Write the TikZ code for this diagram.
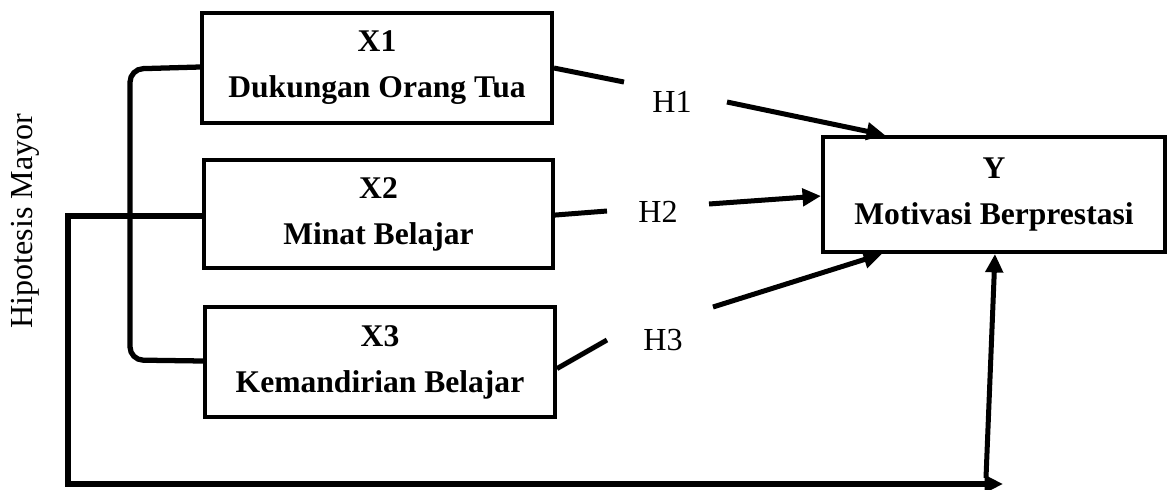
\documentclass[tikz,border=0pt]{standalone}
\usepackage{fontspec}
\setmainfont{Liberation Serif}
\usetikzlibrary{arrows.meta}
\begin{document}
\begin{tikzpicture}[x=0.38pt,y=-0.38pt,
  box/.style={draw,line width=1.5pt,align=center,inner sep=0pt,
    font=\fontsize{12}{17.5}\selectfont\bfseries},
  lbl/.style={font=\fontsize{12.2}{14}\selectfont,inner sep=0pt},
  link/.style={line width=1.9pt},
  arr/.style={line width=1.9pt,-{Triangle[length=7pt,width=6.5pt]}},
  brace/.style={line width=2pt,rounded corners=5pt}]
\useasboundingbox (0,0) rectangle (1169,489);
\node[box,minimum width=133pt,minimum height=41.8pt] (X1) at (377,68) {X1\\Dukungan Orang Tua};
\node[box,minimum width=132.6pt,minimum height=41pt] (X2) at (378.5,214) {X2\\Minat Belajar};
\node[box,minimum width=133pt,minimum height=41.8pt] (X3) at (380,362) {X3\\Kemandirian Belajar};
\node[box,minimum width=130pt,minimum height=43.7pt] (Y) at (994,194.5) {Y\\Motivasi Berprestasi};
\node[lbl] (h1) at (672,102) {H1};
\node[lbl] (h2) at (658,212) {H2};
\node[lbl] (h3) at (663,340) {H3};
\node[lbl,rotate=90] (hyp) at (25,221) {Hipotesis Mayor};
% H1
\coordinate (a1) at (624,82);
\coordinate (b1) at (727,102);
\draw[link] (X1.east) -- (a1);
\draw[arr] (b1) -- (Y.north west -| 885,0);
% H2
\coordinate (a2) at (607,211);
\coordinate (b2) at (709,204);
\draw[link] ([yshift=-0.4pt]X2.east) -- (a2);
\draw[arr] (b2) -- (Y.west |- 0,196);
% H3
\coordinate (a3) at (607,340);
\coordinate (b3) at (713,307);
\draw[link] ([yshift=-2.5pt]X3.east) -- (a3);
\draw[arr] (b3) -- (Y.south west -| 882,0);
% bracket
\draw[brace] (X1.west |- 0,67) -- (130,69) -- (130,360) -- (X3.west |- 0,361);
% major hypothesis
\coordinate (c1) at (68,216);
\coordinate (c2) at (68,484);
\coordinate (c3) at (1003,484);
\coordinate (c4) at (986,478);
\draw[line width=2pt,-{Triangle[length=7pt,width=6.5pt]}] (X2.west |- 0,216) -- (c1) -- (c2) -- (c3);
\draw[arr] (c4) -- (Y.south west -| 995,0);
\end{tikzpicture}
\end{document}
